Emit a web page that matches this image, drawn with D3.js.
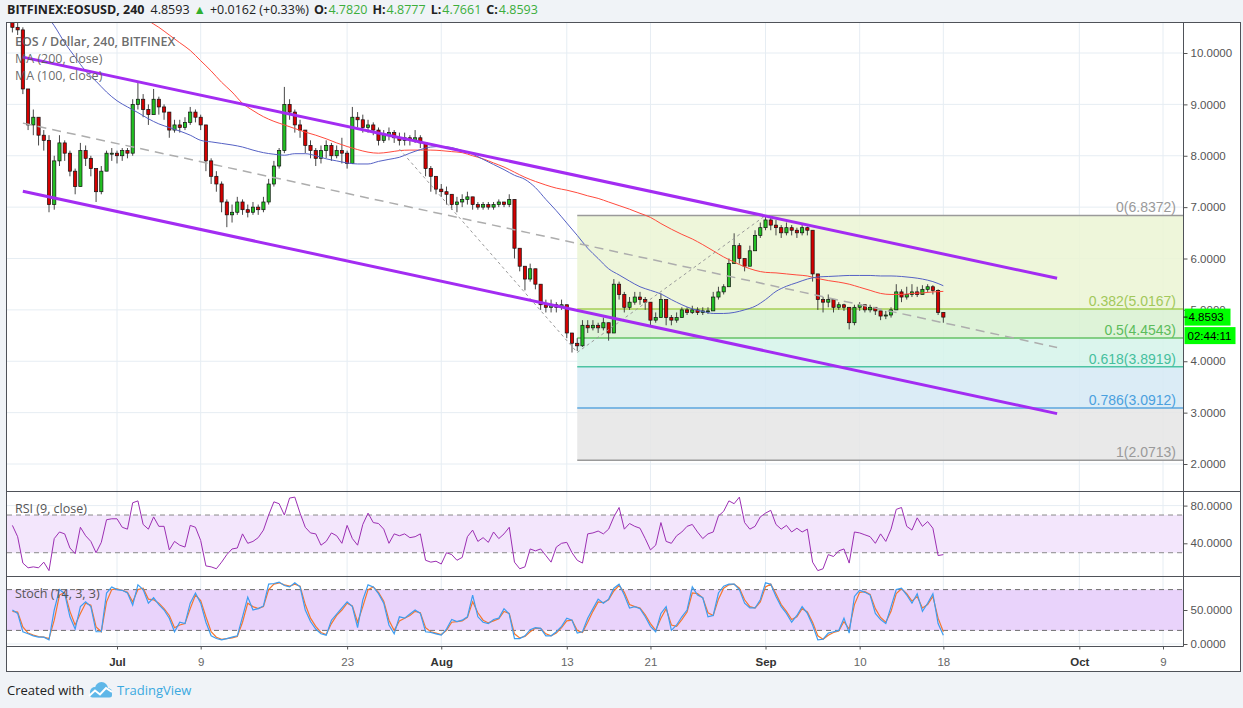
<!DOCTYPE html>
<html><head><meta charset="utf-8">
<script src="https://cdn.jsdelivr.net/npm/d3@7"></script>
<style>
body{margin:0;background:#f0f3f7;}
svg{display:block;font-family:"Liberation Sans",Arial,sans-serif;}
</style></head>
<body><svg id="c" width="1243" height="708"></svg>
<script>
// ---------------- DATA ----------------
const candleStart = "2018-06-21T00:00:00Z"; // 12h candles
const candleHours = 12;
const firstOpen = 10.6;
const closes = [10.50,10.45,9.30,8.60,8.75,8.40,8.30,7.05,7.90,8.25,8.05,7.70,7.40,8.10,7.95,7.75,7.30,7.70,8.05,8.05,
8.00,8.10,8.05,9.00,9.10,8.90,8.80,9.10,8.95,8.85,8.50,8.60,8.55,8.65,8.85,8.75,8.60,7.90,7.60,7.45,
7.10,6.85,6.90,7.10,6.95,6.90,7.00,6.95,7.10,7.45,7.80,8.10,9.00,8.85,8.60,8.50,8.20,8.10,7.95,8.10,
8.20,8.00,8.10,8.05,7.85,8.75,8.70,8.55,8.60,8.50,8.30,8.40,8.45,8.35,8.30,8.35,8.30,8.35,8.25,7.75,
7.60,7.35,7.30,7.25,7.05,7.10,7.15,7.20,7.05,7.00,7.05,7.00,7.05,7.10,7.05,7.15,6.20,5.85,5.60,5.80,
5.50,5.10,5.05,5.10,5.05,5.10,4.55,4.35,4.30,4.70,4.65,4.70,4.65,4.75,4.55,5.50,5.30,5.05,5.15,5.25,
5.20,5.15,4.80,4.85,5.20,4.85,4.80,4.85,5.00,4.95,5.00,4.95,4.98,4.98,5.25,5.35,5.45,5.90,6.25,6.00,
5.85,6.15,6.45,6.60,6.75,6.65,6.60,6.50,6.60,6.55,6.50,6.60,6.55,5.70,5.20,5.15,5.20,5.05,5.10,5.05,
4.75,5.05,5.10,5.00,5.05,4.98,4.88,4.90,5.00,5.35,5.25,5.30,5.35,5.30,5.40,5.45,5.38,4.95,4.8593];
const highs = [10.65,10.6,10.5,9.3,8.9,8.7,8.5,8.4,8.0,8.4,8.3,8.1,7.75,8.25,8.2,8.0,7.75,7.8,8.1,8.15,
8.1,8.15,8.15,9.1,9.42,9.2,9.0,9.3,9.15,9.0,8.85,8.7,8.7,8.75,8.95,8.9,8.8,8.6,7.95,7.7,
7.5,7.15,7.05,7.2,7.15,7.05,7.1,7.05,7.2,7.55,7.9,8.15,9.34,9.1,8.9,8.7,8.5,8.3,8.15,8.2,
8.3,8.25,8.2,8.35,8.1,8.95,8.85,8.8,8.7,8.65,8.55,8.5,8.55,8.5,8.45,8.45,8.4,8.5,8.4,8.25,
7.8,7.55,7.45,7.4,7.25,7.2,7.25,7.3,7.2,7.1,7.1,7.1,7.1,7.15,7.1,7.25,7.15,6.2,5.85,5.9,
5.8,5.45,5.2,5.2,5.15,5.2,5.1,4.55,4.45,4.8,4.8,4.8,4.75,4.85,4.75,5.6,5.55,5.35,5.25,5.35,
5.35,5.25,5.15,4.95,5.32,5.2,4.9,4.95,5.05,5.05,5.08,5.05,5.05,5.05,5.35,5.45,5.5,6.0,6.49,6.3,
6.0,6.25,6.55,6.7,6.84,6.8,6.75,6.65,6.7,6.65,6.6,6.65,6.62,6.55,5.7,5.25,5.3,5.15,5.15,5.12,
5.05,5.1,5.15,5.1,5.1,5.05,4.98,4.98,5.05,5.5,5.4,5.45,5.5,5.45,5.48,5.5,5.48,5.4,4.95];
const lows = [10.4,10.35,9.2,8.5,8.4,8.2,8.1,6.9,6.95,7.8,7.9,7.6,7.25,7.4,7.8,7.6,7.1,7.25,7.7,7.9,
7.85,7.9,7.95,8.0,8.9,8.75,8.6,8.8,8.8,8.7,8.35,8.45,8.45,8.5,8.6,8.65,8.5,7.7,7.45,7.3,
6.9,6.61,6.7,6.85,6.85,6.8,6.85,6.85,6.9,7.05,7.4,7.75,8.05,8.7,8.45,8.35,8.05,7.95,7.8,7.85,
7.95,7.9,7.95,7.85,7.75,7.85,8.55,8.45,8.45,8.4,8.2,8.25,8.3,8.25,8.2,8.2,8.2,8.25,8.15,7.6,
7.3,7.25,7.2,7.05,6.95,6.9,7.0,7.05,6.95,6.95,6.95,6.95,6.95,7.0,7.0,7.0,6.0,5.75,5.38,5.55,
5.4,5.0,4.95,4.95,4.95,5.0,4.45,4.17,4.2,4.28,4.55,4.6,4.55,4.6,4.4,4.55,5.2,4.95,5.0,5.1,
5.1,5.0,4.7,4.75,4.85,4.7,4.7,4.75,4.85,4.9,4.92,4.9,4.9,4.92,4.98,5.2,5.3,5.45,5.9,5.9,
5.75,5.85,6.15,6.4,6.55,6.55,6.45,6.4,6.45,6.45,6.4,6.45,6.45,5.55,5.0,4.95,5.05,4.95,5.0,4.98,
4.62,4.7,4.98,4.95,4.95,4.9,4.8,4.82,4.85,5.0,5.15,5.2,5.25,5.25,5.3,5.35,5.3,4.9,4.75];

// moving averages, one value per day (every 2nd candle)
const maStart = "2018-06-21T00:00:00Z";
const ma200 = [null,null,null,null,null,null,null,null,null,null,null,null,
10.8,10.63,10.5,10.35,10.2,10.05,9.85,9.65,9.43,9.24,9.02,8.88,8.76,8.67,8.6,8.53,8.46,8.40,
8.33,8.25,8.18,8.12,8.07,8.05,8.07,8.1,8.11,8.11,8.11,8.1,8.08,8.06,8.0,7.94,7.86,7.78,7.68,7.58,
7.5,7.43,7.37,7.33,7.28,7.22,7.17,7.1,7.03,6.96,6.88,6.8,6.68,6.57,6.47,6.38,6.27,6.15,6.03,5.93,
5.84,5.77,5.73,5.72,5.70,5.68,5.66,5.61,5.57,5.54,5.50,5.44,5.38,5.32,5.30,5.30,5.32,5.33,5.35,5.36];
const ma100 = [null,null,null,10.8,10.53,10.2,9.92,9.65,9.45,9.24,9.07,8.95,8.84,8.72,8.62,8.55,8.48,8.40,8.30,8.27,
8.24,8.21,8.17,8.11,8.06,8.03,8.01,8.04,8.04,8.0,7.94,7.9,7.86,7.84,7.84,7.89,7.93,7.97,8.05,8.12,
8.17,8.18,8.16,8.1,8.03,7.93,7.83,7.73,7.62,7.54,7.38,7.15,6.93,6.69,6.45,6.2,6.0,5.8,5.68,5.56,
5.45,5.38,5.31,5.2,5.1,5.02,4.97,4.93,4.93,4.95,5.0,5.07,5.2,5.36,5.46,5.53,5.6,5.64,5.65,5.66,
5.67,5.67,5.67,5.66,5.66,5.65,5.63,5.6,5.55,5.47];

const rsi = [59,47,19,14,15,14,20,11,45,52,50,35,29,57,48,42,30,41,65,66,
66,57,55,83,85,60,55,68,58,58,33,42,38,36,59,57,43,16,15,13,
20,28,34,35,50,40,42,46,54,70,84,82,70,88,89,72,57,51,50,38,
42,51,48,40,59,45,38,60,72,62,61,55,40,50,48,50,46,47,50,22,
20,21,18,30,28,22,25,47,54,42,46,41,52,45,50,57,20,13,15,34,
32,34,27,20,36,40,41,30,22,19,50,51,53,50,55,68,78,55,61,58,
56,45,33,38,62,42,40,48,52,58,60,52,45,50,52,69,74,85,82,89,
62,55,58,68,72,75,60,55,59,52,56,52,55,20,11,13,28,26,32,34,
19,52,51,49,47,40,50,42,55,76,78,58,54,67,58,63,56,27,28];
const stochK = [50,45,18,15,12,10,10,6,50,80,74,40,22,55,62,55,18,18,75,84,
80,79,75,57,87,80,60,68,58,50,38,18,32,30,60,75,60,32,12,8,
6,8,10,12,40,69,50,52,56,88,89,91,86,84,90,84,50,33,22,15,
13,35,44,53,62,55,24,65,87,84,74,60,28,15,40,38,44,50,45,18,
17,15,13,22,36,33,35,40,72,40,32,30,36,38,52,44,8,8,12,21,
24,23,12,12,18,26,38,35,16,18,38,52,66,60,66,82,88,72,53,55,
52,40,26,18,45,55,20,28,40,50,84,72,68,40,42,75,85,88,88,80,
60,53,53,65,90,88,70,55,45,32,42,55,45,28,6,7,16,18,20,38,
16,70,79,76,72,45,36,30,55,80,82,72,60,74,48,60,74,30,13];
const stochD = [48,47,25,16,13,11,10,8,35,72,76,48,28,45,60,57,25,18,62,80,
81,79,76,62,80,82,66,65,60,52,42,24,28,30,52,72,64,40,18,10,
7,8,9,11,32,60,55,52,55,80,88,90,87,85,88,85,58,38,26,17,
14,30,42,50,60,56,32,55,80,84,76,63,35,20,34,38,42,48,46,24,
18,16,14,20,32,33,34,39,62,46,35,31,34,37,48,45,15,9,11,18,
23,23,15,12,16,24,34,35,20,17,32,48,62,61,65,78,86,76,58,55,
53,43,30,20,38,52,28,26,36,47,75,74,68,46,42,66,82,87,88,82,
65,55,53,62,84,88,74,58,48,36,40,52,47,32,12,7,13,17,19,33,
22,58,76,77,73,52,39,32,48,74,81,74,63,70,53,58,70,38,18];

// drawings
const channelUpper = [["2018-06-22T00:00:00Z",9.92],["2018-09-28T21:00:00Z",5.614]];
const channelLower = [["2018-06-22T00:00:00Z",7.31],["2018-09-28T21:00:00Z",2.98]];
const midDashed = [["2018-06-22T00:00:00Z",8.635],["2018-09-28T21:00:00Z",4.269]];
const fibTrend = [["2018-07-28T00:00:00Z",8.13],["2018-08-14T00:00:00Z",4.171],["2018-09-01T00:00:00Z",6.8372]];
const fibStartDate = "2018-08-14T00:00:00Z";
const fibLevels = ["0","0.382","0.5","0.618","0.786","1"];
const fibPrices = [6.8372,5.0167,4.4543,3.8919,3.0912,2.0713];
const fibLineColors = ["#9a9a9a","#a6cf55","#66c266","#4cc3a3","#5aa6de","#9a9a9a"];
const fibTextColors = ["#9a9a9a","#a2c85a","#5cbc5c","#45bf9e","#4aa0de","#9a9a9a"];
const fibFillColors = ["#ebf4d3","#d8f1d1","#d5f3ea","#d5e9f4","#e5e5e5"];

const priceTicks = [2,3,4,5,6,7,8,9,10];
const timeTicks = ["2018-07-01","2018-07-09","2018-07-23","2018-08-01","2018-08-13","2018-08-21","2018-09-01","2018-09-10","2018-09-18","2018-10-01","2018-10-09"];
const timeLabels = ["Jul","9","23","Aug","13","21","Sep","10","18","Oct","9"];
const monthLabels = ["Jul","Aug","Sep","Oct"];
const rsiTicks = [40,80];
const stochTicks = [0,50];
const lastPrice = 4.8593;
const countdown = "02:44:11";

// ---------------- LAYOUT ----------------
const L=7, PR=1183.5, FR=1240, T=23, MB=491, RB=576, SB=646, AB=671;
const svg = d3.select("#c");
const P = d => new Date(d);
const x = d3.scaleUtc().domain([P("2018-07-01T00:00:00Z"), P("2018-10-09T00:00:00Z")]).range([117,1163]);
const y = d3.scaleLinear().domain([2,10]).range([464,53]);
const yR = d3.scaleLinear().domain([40,80]).range([543.3,505.6]);
const yS = d3.scaleLinear().domain([0,50]).range([644,610]);

svg.append("rect").attr("width",1243).attr("height",708).attr("fill","#f0f3f7");
svg.append("rect").attr("x",L).attr("y",T).attr("width",FR-L).attr("height",AB-T).attr("fill","#fff");

const defs = svg.append("defs");
function clip(id,x0,y0,x1,y1){defs.append("clipPath").attr("id",id).append("rect").attr("x",x0).attr("y",y0).attr("width",x1-x0).attr("height",y1-y0);}
clip("cm",L,T,PR,MB); clip("cr",L,MB,PR,RB); clip("cs",L,RB,PR,SB);

// grid
const grid = svg.append("g");
timeTicks.forEach(t=>{grid.append("line").attr("x1",x(P(t+"T00:00:00Z"))).attr("x2",x(P(t+"T00:00:00Z"))).attr("y1",T).attr("y2",SB).attr("stroke","#e6edf3").attr("stroke-width",1);});
priceTicks.forEach(v=>{grid.append("line").attr("x1",L).attr("x2",PR).attr("y1",y(v)).attr("y2",y(v)).attr("stroke","#e6edf3");});
rsiTicks.forEach(v=>{grid.append("line").attr("x1",L).attr("x2",PR).attr("y1",yR(v)).attr("y2",yR(v)).attr("stroke","#e6edf3");});
stochTicks.forEach(v=>{grid.append("line").attr("x1",L).attr("x2",PR).attr("y1",yS(v)).attr("y2",yS(v)).attr("stroke","#e6edf3");});

// main panel
const gm = svg.append("g").attr("clip-path","url(#cm)");
const fx0 = x(P(fibStartDate));
for(let k=0;k<5;k++){
  gm.append("rect").attr("x",fx0).attr("width",PR-fx0).attr("y",y(fibPrices[k])).attr("height",y(fibPrices[k+1])-y(fibPrices[k]))
    .attr("fill",fibFillColors[k]).attr("fill-opacity",0.85);
}
fibPrices.forEach((p,k)=>{
  gm.append("line").attr("x1",fx0).attr("x2",PR).attr("y1",y(p)).attr("y2",y(p)).attr("stroke",fibLineColors[k]).attr("stroke-width",1.5);
});

// candles
const t0 = P(candleStart).getTime();
const candles = closes.map((c,i)=>{
  const o = i===0?firstOpen:closes[i-1];
  return {d:new Date(t0+i*candleHours*3600e3),o,c,h:Math.max(highs[i],o,c),l:Math.min(lows[i],o,c)};
});
const gc = gm.append("g");
const bw = 3.2;
candles.forEach(k=>{
  const cx = x(k.d);
  gc.append("line").attr("x1",cx).attr("x2",cx).attr("y1",y(k.h)).attr("y2",y(k.l)).attr("stroke","#333").attr("stroke-width",0.9);
  const top = y(Math.max(k.o,k.c)), bot = y(Math.min(k.o,k.c));
  gc.append("rect").attr("x",cx-bw/2).attr("y",top).attr("width",bw).attr("height",Math.max(1,bot-top))
    .attr("fill",k.c>=k.o?"#22c022":"#d40000").attr("stroke","#111").attr("stroke-width",0.7);
});

// moving averages
const maT0 = P(maStart).getTime();
const maLine = d3.line().defined(d=>d.v!=null).x(d=>x(d.d)).y(d=>y(d.v)).curve(d3.curveMonotoneX);
const toMa = arr => arr.map((v,j)=>({d:new Date(maT0+j*24*3600e3),v}));
gm.append("path").attr("d",maLine(toMa(ma200))).attr("fill","none").attr("stroke","#ff4a3d").attr("stroke-width",1);
gm.append("path").attr("d",maLine(toMa(ma100))).attr("fill","none").attr("stroke","#5561c4").attr("stroke-width",1);

// drawings
const dl = d3.line().x(d=>x(P(d[0]))).y(d=>y(d[1]));
gm.append("path").attr("d",dl(midDashed)).attr("fill","none").attr("stroke","#adadad").attr("stroke-width",1.5).attr("stroke-dasharray","9,6");
gm.append("path").attr("d",dl(fibTrend)).attr("fill","none").attr("stroke","#9a9a9a").attr("stroke-width",1).attr("stroke-dasharray","3,3");
gm.append("path").attr("d",dl(channelUpper)).attr("fill","none").attr("stroke","#a32cf2").attr("stroke-width",3);
gm.append("path").attr("d",dl(channelLower)).attr("fill","none").attr("stroke","#a32cf2").attr("stroke-width",3);

// fib labels
fibPrices.forEach((p,k)=>{
  svg.append("text").attr("x",1176).attr("y",y(p)-3).attr("text-anchor","end").attr("font-size",14)
    .attr("fill",fibTextColors[k]).text(fibLevels[k]+"("+p.toFixed(4)+")");
});

// legend
const leg = ["EOS / Dollar, 240, BITFINEX","MA (200, close)","MA (100, close)"];
leg.forEach((s,i)=>{
  svg.append("text").attr("x",15).attr("y",46+i*17).attr("font-family","'Open Sans',sans-serif").attr("font-size",12.5)
    .attr("fill","#5a5a5a").attr("font-weight",i===0?600:400).attr("fill-opacity",0.9).text(s);
});

// RSI panel
const gr = svg.append("g").attr("clip-path","url(#cr)");
gr.append("rect").attr("x",L).attr("width",PR-L).attr("y",yR(70)).attr("height",yR(30)-yR(70)).attr("fill","#f3e6fc");
[70,30].forEach(v=>gr.append("line").attr("x1",L).attr("x2",PR).attr("y1",yR(v)).attr("y2",yR(v)).attr("stroke","#8a8a8a").attr("stroke-dasharray","5,4"));
const pl = (scale)=>d3.line().x((d,i)=>x(new Date(t0+i*candleHours*3600e3))).y(d=>scale(d));
gr.append("path").attr("d",pl(yR)(rsi)).attr("fill","none").attr("stroke","#9c2fb3").attr("stroke-width",1);
svg.append("text").attr("x",15).attr("y",513).attr("font-family","'Open Sans',sans-serif").attr("font-size",12.5).attr("fill","#555").text("RSI (9, close)");

// Stoch panel
const gs = svg.append("g").attr("clip-path","url(#cs)");
gs.append("rect").attr("x",L).attr("width",PR-L).attr("y",yS(80)).attr("height",yS(20)-yS(80)).attr("fill","#e9d3fb");
[80,20].forEach(v=>gs.append("line").attr("x1",L).attr("x2",PR).attr("y1",yS(v)).attr("y2",yS(v)).attr("stroke","#6e6e6e").attr("stroke-dasharray","5,4"));
gs.append("path").attr("d",pl(yS)(stochD)).attr("fill","none").attr("stroke","#f5762d").attr("stroke-width",1.2);
gs.append("path").attr("d",pl(yS)(stochK)).attr("fill","none").attr("stroke","#3d9df0").attr("stroke-width",1.2);
svg.append("text").attr("x",15).attr("y",598).attr("font-family","'Open Sans',sans-serif").attr("font-size",12.5).attr("fill","#555").text("Stoch (14, 3, 3)");

// separators & frame
const fr = svg.append("g").attr("stroke","#4f5259").attr("stroke-width",1);
[MB,RB].forEach(v=>fr.append("line").attr("x1",L).attr("x2",FR).attr("y1",v+0.5).attr("y2",v+0.5));
fr.append("line").attr("x1",L).attr("x2",PR).attr("y1",SB+0.5).attr("y2",SB+0.5);
fr.append("line").attr("x1",PR).attr("x2",PR).attr("y1",T).attr("y2",SB+0.5);
svg.append("rect").attr("x",L-0.5).attr("y",T-0.5).attr("width",FR-L+1).attr("height",AB-T+1).attr("fill","none").attr("stroke","#4f5259");

// axes
function styleAxis(g,fs){g.select(".domain").remove();g.selectAll(".tick line").attr("stroke","#555");g.selectAll("text").attr("fill","#555").attr("font-size",fs).attr("font-family","'Liberation Sans',Arial,sans-serif");}
const ay = svg.append("g").attr("transform",`translate(${PR},0)`).call(d3.axisRight(y).tickValues(priceTicks).tickFormat(d3.format(".4f")).tickSize(4).tickPadding(3));
styleAxis(ay,11.5);
const ar = svg.append("g").attr("transform",`translate(${PR},0)`).call(d3.axisRight(yR).tickValues(rsiTicks).tickFormat(d3.format(".4f")).tickSize(4).tickPadding(3));
styleAxis(ar,11.5);
const as = svg.append("g").attr("transform",`translate(${PR},0)`).call(d3.axisRight(yS).tickValues(stochTicks).tickFormat(d3.format(".4f")).tickSize(4).tickPadding(3));
styleAxis(as,11.5);
const ax = svg.append("g").attr("transform",`translate(0,${SB+0.5})`).call(d3.axisBottom(x).tickValues(timeTicks.map(t=>P(t+"T00:00:00Z"))).tickFormat((d,i)=>timeLabels[i]).tickSize(3).tickPadding(8));
styleAxis(ax,11.5);
ax.selectAll("text").attr("fill",(d,i)=>monthLabels.includes(timeLabels[i])?"#333":"#666").attr("font-weight",(d,i)=>monthLabels.includes(timeLabels[i])?"bold":"normal");

// price tag
const py = y(lastPrice);
svg.append("rect").attr("x",PR+1).attr("y",py-8.5).attr("width",46).attr("height",17).attr("fill","#00ff00");
svg.append("line").attr("x1",PR).attr("x2",PR+4).attr("y1",py).attr("y2",py).attr("stroke","#111");
svg.append("text").attr("x",PR+5).attr("y",py+4).attr("font-size",11.5).attr("fill","#000").text(lastPrice.toFixed(4));
svg.append("rect").attr("x",PR+1).attr("y",py+10).attr("width",51).attr("height",17).attr("fill","#00ff00");
svg.append("text").attr("x",PR+4).attr("y",py+22.5).attr("font-size",11.5).attr("fill","#000").text(countdown);

// header
const hd = svg.append("text").attr("x",7).attr("y",14).attr("font-family","'Open Sans',sans-serif").attr("font-size",12.5).attr("fill","#222");
hd.append("tspan").attr("font-weight","bold").text("BITFINEX:EOSUSD, 240");
hd.append("tspan").attr("dx",6).text("4.8593");
hd.append("tspan").attr("dx",4).attr("fill","#2faf2f").text("▲");
hd.append("tspan").attr("dx",4).text("+0.0162 (+0.33%)");
[["O:","4.7820"],["H:","4.8777"],["L:","4.7661"],["C:","4.8593"]].forEach(([a,b])=>{
  hd.append("tspan").attr("dx",5).attr("font-weight","bold").text(a);
  hd.append("tspan").attr("dx",1).attr("fill","#3cae3c").text(b);
});

// footer
svg.append("text").attr("x",7).attr("y",695).attr("font-family","'Open Sans',sans-serif").attr("font-size",13).attr("fill","#222").text("Created with");
const lg = svg.append("g").attr("fill","#5fb7e8");
lg.append("circle").attr("cx",95).attr("cy",692).attr("r",5);
lg.append("circle").attr("cx",101.5).attr("cy",688.5).attr("r",6.5);
lg.append("circle").attr("cx",107.5).attr("cy",692.5).attr("r",4.5);
lg.append("rect").attr("x",90).attr("y",692).attr("width",22).attr("height",5.5).attr("rx",2.5);
svg.append("polyline").attr("points","89,696 95,690.5 100,694.5 106,688 112,692").attr("fill","none").attr("stroke","#fff").attr("stroke-width",2);
svg.append("text").attr("x",117).attr("y",695).attr("font-family","'Open Sans',sans-serif").attr("font-size",13).attr("fill","#3aa9e0").text("TradingView");
</script></body></html>
